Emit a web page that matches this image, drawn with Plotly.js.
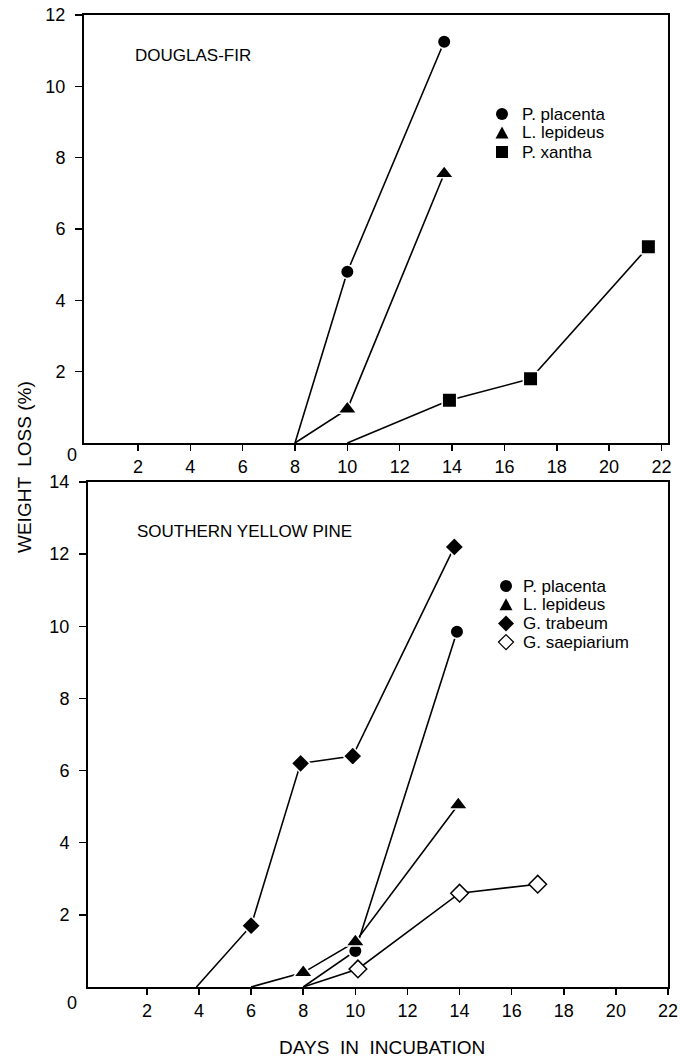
<!DOCTYPE html>
<html><head><meta charset="utf-8">
<script src="https://cdn.plot.ly/plotly-3.0.1.min.js"></script>
<style>html,body{margin:0;padding:0;background:#fff}#chart{width:680px;height:1059px}</style>
</head><body><div id="chart"></div>
<script>
// ---- Douglas-fir (top panel) ----
const dfPlacentaDays = [8, 10, 13.7];
const dfPlacentaLoss = [0, 4.8, 11.25];
const dfLepideusDays = [8, 10, 13.7];
const dfLepideusLoss = [0, 0.95, 7.55];
const dfXanthaDays = [10, 13.9, 17, 21.5];
const dfXanthaLoss = [0, 1.2, 1.8, 5.5];
// ---- Southern yellow pine (bottom panel) ----
const sypPlacentaDays = [8, 10, 13.9];
const sypPlacentaLoss = [0, 1.0, 9.85];
const sypLepideusDays = [6, 8, 10, 13.95];
const sypLepideusLoss = [0, 0.4, 1.25, 5.05];
const sypTrabeumDays = [3.9, 6, 7.9, 9.9, 13.8];
const sypTrabeumLoss = [0, 1.7, 6.2, 6.4, 12.2];
const sypSaepiariumDays = [8, 10.1, 14, 17];
const sypSaepiariumLoss = [0, 0.5, 2.6, 2.85];
// ---- labels / ticks ----
const dfSpecies = ['P. placenta', 'L. lepideus', 'P. xantha'];
const dfSymbols = ['circle', 'triangle', 'square'];
const sypSpecies = ['P. placenta', 'L. lepideus', 'G. trabeum', 'G. saepiarium'];
const sypSymbols = ['circle', 'triangle', 'diamond', 'diamond-open'];
const xTicks = [2, 4, 6, 8, 10, 12, 14, 16, 18, 20, 22];
const dfYTicks = [2, 4, 6, 8, 10, 12];
const sypYTicks = [2, 4, 6, 8, 10, 12, 14];
const dfTitle = 'DOUGLAS-FIR';
const sypTitle = 'SOUTHERN YELLOW PINE';
const yTitle = 'WEIGHT  LOSS (%)';
const xTitle = 'DAYS  IN  INCUBATION';

const FONT = 'Liberation Sans, Arial, sans-serif';
const W = 680, H = 1059;
const px = v => v / W, py = v => 1 - v / H;

const markerSpec = {
  circle: {symbol: 'circle', size: 13.5},
  triangle: {symbol: 'triangle-up', size: 16.5},
  square: {symbol: 'square', size: 14.5},
  diamond: {symbol: 'diamond', size: 14.5},
  'diamond-open': {symbol: 'diamond', size: 13.5}
};

function series(x, y, kind, xa, ya) {
  const m = markerSpec[kind];
  const open = kind === 'diamond-open';
  return {
    x: x, y: y, xaxis: xa, yaxis: ya, mode: 'lines+markers', showlegend: false,
    line: {color: '#000', width: 1.6},
    marker: {
      symbol: m.symbol, opacity: 1,
      size: y.map(v => v === 0 ? 0 : m.size),
      color: open ? '#fff' : '#000',
      line: {color: open ? '#000' : '#fff', width: 1.5}
    },
    cliponaxis: false
  };
}

const traces = [
  series(dfPlacentaDays, dfPlacentaLoss, 'circle', 'x', 'y'),
  series(dfLepideusDays, dfLepideusLoss, 'triangle', 'x', 'y'),
  series(dfXanthaDays, dfXanthaLoss, 'square', 'x', 'y'),
  series(sypPlacentaDays, sypPlacentaLoss, 'circle', 'x2', 'y2'),
  series(sypLepideusDays, sypLepideusLoss, 'triangle', 'x2', 'y2'),
  series(sypTrabeumDays, sypTrabeumLoss, 'diamond', 'x2', 'y2'),
  series(sypSaepiariumDays, sypSaepiariumLoss, 'diamond-open', 'x2', 'y2')
];

// legend key shapes (pixel-sized, anchored in paper coordinates)
function keyShape(kind, cx, cy) {
  const base = {xref: 'paper', yref: 'paper', xsizemode: 'pixel', ysizemode: 'pixel',
    xanchor: px(cx), yanchor: py(cy), fillcolor: '#000', line: {color: '#000', width: 0}};
  if (kind === 'circle') return Object.assign(base, {type: 'circle', x0: -6, x1: 6, y0: -6, y1: 6});
  if (kind === 'square') return Object.assign(base, {type: 'rect', x0: -6, x1: 6, y0: -6, y1: 6});
  if (kind === 'triangle') return Object.assign(base, {type: 'path', path: 'M-6.5,-5.5 L6.5,-5.5 L0,6.5 Z'});
  if (kind === 'diamond') return Object.assign(base, {type: 'path', path: 'M0,8 L8,0 L0,-8 L-8,0 Z'});
  return Object.assign(base, {type: 'path', path: 'M0,7.5 L7.5,0 L0,-7.5 L-7.5,0 Z',
    fillcolor: '#fff', line: {color: '#000', width: 1.3}});
}

const ann = (text, x, y, size, extra) => Object.assign({
  text: text, x: px(x), y: py(y), xref: 'paper', yref: 'paper', showarrow: false,
  font: {family: FONT, size: size, color: '#000'}
}, extra || {});

const shapes = [];
const annotations = [
  ann(dfTitle, 133, 56, 17, {xanchor: 'left', yanchor: 'middle'}),
  ann(sypTitle, 135, 531, 17, {xanchor: 'left', yanchor: 'middle'}),
  ann(yTitle, 24, 467, 19, {textangle: -90, xanchor: 'center', yanchor: 'middle'}),
  ann(xTitle, 382, 1047, 19, {xanchor: 'center', yanchor: 'middle'}),
  ann('0', 72, 455, 18, {xanchor: 'center', yanchor: 'middle'}),
  ann('0', 72, 1003, 18, {xanchor: 'center', yanchor: 'middle'})
];
dfSpecies.forEach((name, i) => {
  const cy = 114 + i * 19;
  shapes.push(keyShape(dfSymbols[i], 502, cy));
  annotations.push(ann(name, 520, cy, 17, {xanchor: 'left', yanchor: 'middle'}));
});
sypSpecies.forEach((name, i) => {
  const cy = 586 + i * 18.7;
  shapes.push(keyShape(sypSymbols[i], 506, cy));
  annotations.push(ann(name, 521, cy, 17, {xanchor: 'left', yanchor: 'middle'}));
});

const axisCommon = {
  showgrid: false, zeroline: false, showline: true, linecolor: '#000', linewidth: 2,
  mirror: true, ticks: 'outside', tickcolor: '#000', tickwidth: 1.5,
  tickfont: {family: FONT, size: 18, color: '#000'}, fixedrange: true
};

const layout = {
  width: W, height: H, margin: {l: 0, r: 0, t: 0, b: 0},
  paper_bgcolor: '#fff', plot_bgcolor: '#fff', showlegend: false,
  xaxis: Object.assign({}, axisCommon, {domain: [px(84), px(668)], range: [-0.06, 22.25],
    tickvals: xTicks, ticklen: 6, anchor: 'y'}),
  yaxis: Object.assign({}, axisCommon, {domain: [py(443), py(15)], range: [0, 12],
    tickvals: dfYTicks, ticklen: 7, ticklabelstandoff: 6, anchor: 'x'}),
  xaxis2: Object.assign({}, axisCommon, {domain: [px(88), px(668)], range: [-0.26, 22.0],
    tickvals: xTicks, ticklen: 6, anchor: 'y2'}),
  yaxis2: Object.assign({}, axisCommon, {domain: [py(987), py(482)], range: [0, 14],
    tickvals: sypYTicks, ticklen: 7, ticklabelstandoff: 6, anchor: 'x2'}),
  shapes: shapes,
  annotations: annotations
};

Plotly.newPlot('chart', traces, layout, {staticPlot: true, displayModeBar: false});
</script>
</body></html>
